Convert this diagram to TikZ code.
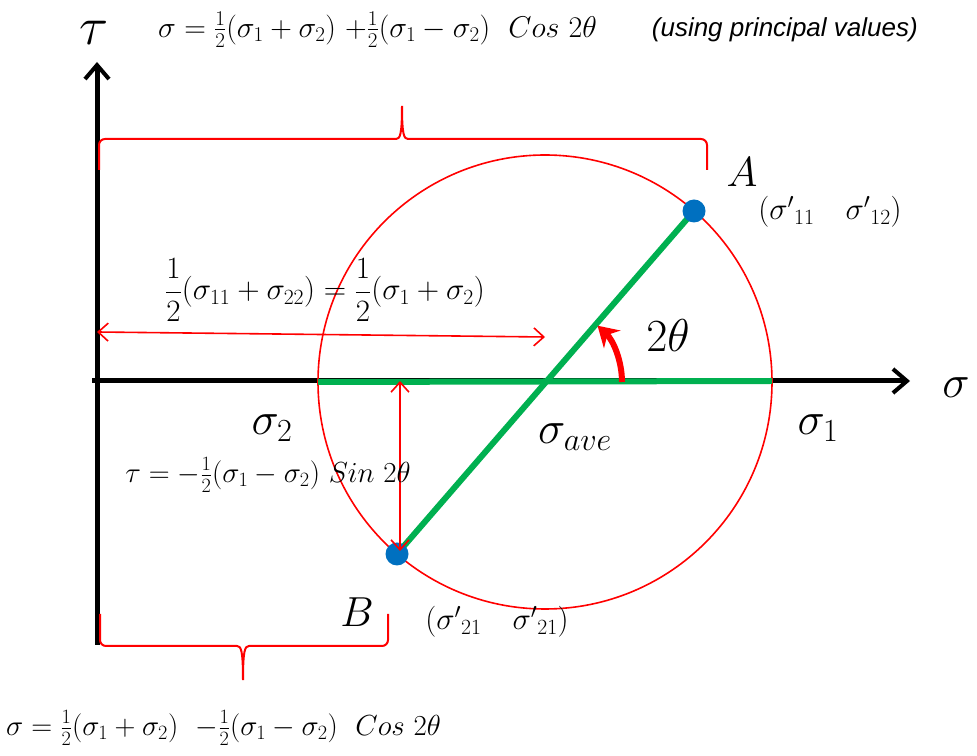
\RequirePackage{fix-cm}
\documentclass[tikz,border=0pt]{standalone}
\usepackage{amsmath}
\usepackage{fontspec}
\usetikzlibrary{arrows.meta}
\newfontfamily\arialfont{Liberation Sans}
\definecolor{myred}{RGB}{255,0,0}
\definecolor{mygreen}{RGB}{0,176,80}
\definecolor{myblue}{RGB}{0,112,192}
\tikzset{
  axis/.style={line width=5pt,-{Straight Barb[length=14pt,width=24pt,line width=4pt]}},
  dim/.style={myred,line width=1.6pt,{Straight Barb[length=10pt,width=18pt]}-{Straight Barb[length=10pt,width=18pt]}},
  brace/.style={myred,line width=2pt},
  big/.style={font=\fontsize{46}{50}\selectfont,inner sep=0pt},
  mid/.style={font=\fontsize{31}{34}\selectfont,inner sep=0pt},
  small/.style={font=\fontsize{29}{32}\selectfont,inner sep=0pt},
  dot/.style={circle,fill=myblue,minimum size=23pt,inner sep=0pt}
}
\begin{document}
\begin{tikzpicture}[x=1pt,y=1pt]
\useasboundingbox (0,0) rectangle (977,755);
% axes
\coordinate (o) at (97,374);
\coordinate (ybot) at (97,110);
\coordinate (ytop) at (97,693);
\coordinate (xl) at (92,374);
\coordinate (xr) at (910,374);
\draw[line width=5pt] (ybot) -- (o);
\draw[axis] (o) -- (ytop);
\draw[axis] (xl) -- (xr);
% circle
\coordinate (c) at (545,373);
\draw[myred,line width=1.6pt] (c) circle[radius=227];
\coordinate (s2) at (318,373);
\coordinate (s1) at (772,374);
\coordinate (Apt) at (694,544);
\coordinate (Bpt) at (397,201);
\draw[mygreen,line width=6pt] (s2) -- (s1);
\draw[mygreen,line width=6pt] (Bpt) -- (Apt);
\node[dot] (Adot) at (Apt) {};
\node[dot] (Bdot) at (Bpt) {};
% angle arc
\draw[myred,line width=6pt,-{Stealth[length=20pt,width=24pt]}] (622,373) arc[start angle=0,end angle=47,radius=77];
% dimension arrows
\coordinate (h1) at (97,423);
\coordinate (h2) at (545,418);
\draw[dim] (h1) -- (h2);
\coordinate (v1) at (400,374);
\coordinate (v2) at (400,204);
\draw[dim] (v1) -- (v2);
% braces
\draw[brace] (99,585) -- (99,610) to[out=90,in=180] (105,616) -- (396,616)
  .. controls (400,616) and (402,620) .. (402,649)
  .. controls (402,620) and (404,616) .. (408,616) -- (701,616)
  to[out=0,in=90] (707,610) -- (707,585);
\draw[brace] (100,141) -- (100,115) to[out=-90,in=180] (106,109) -- (237,109)
  .. controls (241,109) and (243,105) .. (243,75)
  .. controls (243,105) and (245,109) .. (249,109) -- (382,109)
  to[out=0,in=-90] (388,115) -- (388,141);
% labels
\node[big,font=\fontsize{54}{58}\selectfont] (tau) at (94,722) {$\tau$};
\node[big] (sig) at (956,367) {$\sigma$};
\node[big] (sig2) at (272,327) {$\sigma_2$};
\node[big] (sig1) at (818,327) {$\sigma_1$};
\node[big] (sigave) at (575,318) {$\sigma_{ave}$};
\node[big] (two) at (668,419) {$2\theta$};
\node[big,font=\fontsize{42}{46}\selectfont] (Alab) at (742,583) {$A$};
\node[big,font=\fontsize{42}{46}\selectfont] (Blab) at (357,143) {$B$};
\node[mid] (Acoord) at (830,543) {$({\sigma'}_{11}\quad {\sigma'}_{12})$};
\node[mid] (Bcoord) at (497,133) {$({\sigma'}_{21}\quad {\sigma'}_{21})$};
\node[mid] (avg) at (325,465) {$\dfrac{1}{2}(\sigma_{11}+\sigma_{22})=\dfrac{1}{2}(\sigma_1+\sigma_2)$};
\node[small] (taueq) at (268,280) {$\tau=-\tfrac{1}{2}(\sigma_1-\sigma_2)\ Sin\ 2\theta$};
\node[small,anchor=west,font=\fontsize{30}{33}\selectfont] (topeq) at (158,725) {$\sigma=\tfrac{1}{2}(\sigma_1+\sigma_2)\ {+}\tfrac{1}{2}(\sigma_1-\sigma_2)\ \ Cos\ 2\theta$};
\node[small,anchor=east,font=\fontsize{26}{30}\arialfont\itshape] (note) at (918,725) {(using principal values)};
\node[small,anchor=west] (boteq) at (6,27) {$\sigma=\tfrac{1}{2}(\sigma_1+\sigma_2)\ \ {-}\tfrac{1}{2}(\sigma_1-\sigma_2)\ \ Cos\ 2\theta$};
\end{tikzpicture}
\end{document}
